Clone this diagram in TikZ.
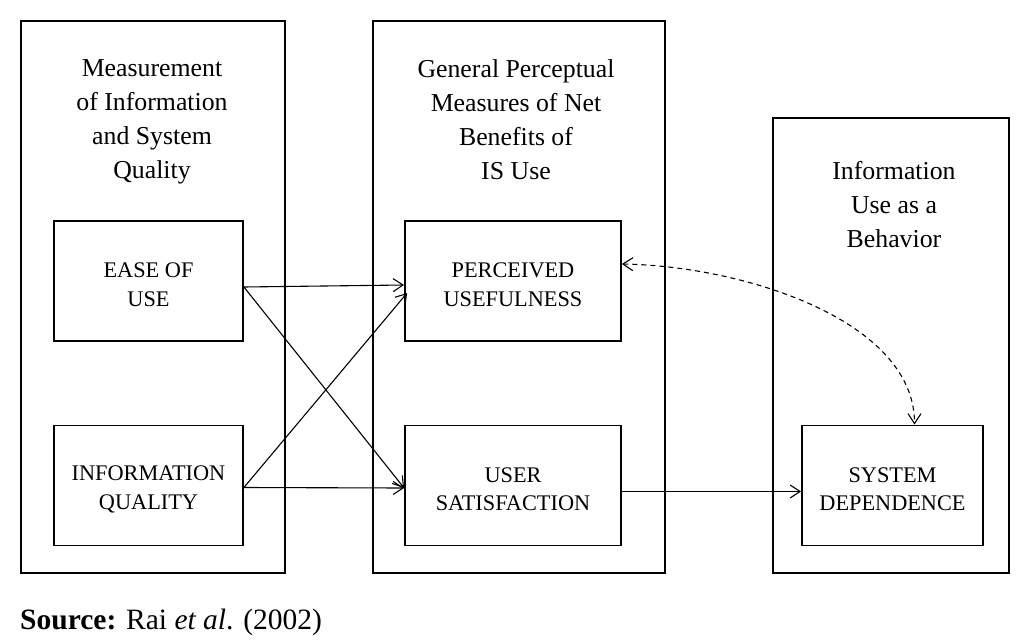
\documentclass[tikz,border=0pt]{standalone}
\usepackage{fontspec}
\setmainfont{Liberation Serif}
\usetikzlibrary{arrows.meta}
\newcommand{\fstrut}{\rule{0pt}{22.6pt}}
\begin{document}
\begin{tikzpicture}[x=1pt,y=-1pt,
  outer/.style={draw,line width=1.8pt,inner sep=0pt,anchor=north west},
  box/.style={draw,line width=1.8pt,inner sep=0pt,align=center,
    minimum width=189pt,minimum height=120pt,
    font=\fontsize{22.3}{28.5}\selectfont},
  title/.style={inner sep=0pt,align=center,anchor=north,
    font=\fontsize{25.8}{34}\selectfont},
  conn/.style={line width=1.1pt,-{Straight Barb[length=10pt,width=13pt]}},
  dconn/.style={line width=1.1pt,dash pattern=on 5pt off 4pt,
    {Straight Barb[length=10pt,width=13pt]}-{Straight Barb[length=10pt,width=13pt]}}]
\useasboundingbox (0,0) rectangle (1033,642);
% outer frames
\node[outer,minimum width=264pt,minimum height=552pt] (L) at (20,20) {};
\node[outer,minimum width=292pt,minimum height=552pt] (M) at (372,20) {};
\node[outer,minimum width=236pt,minimum height=455pt] (R) at (772,117) {};
% titles
\node[title] (tL) at (152,59.6) {Measurement\\of Information\\and System\\Quality};
\node[title] (tM) at (516,59.6) {General Perceptual\\Measures of Net\\Benefits of\\IS Use};
\node[title] (tR) at (894,161.6) {Information\\Use as a\\Behavior};
% inner boxes
\node[box] (eou) at (148.5,281) {\fstrut EASE OF\\USE};
\node[box] (iq) at (148.5,485.5) {\fstrut INFORMATION\\QUALITY};
\node[box,minimum width=216pt] (pu) at (513,281) {\fstrut PERCEIVED\\USEFULNESS};
\node[box,minimum width=216pt] (us) at (513,485.5) {\fstrut USER\\SATISFACTION};
\node[box,minimum width=181pt] (sd) at (892.5,485.5) {\fstrut SYSTEM\\DEPENDENCE};
% connectors
\draw[conn] ([yshift=-6pt]eou.east) -- ([yshift=-4pt]pu.west);
\draw[conn] ([yshift=-6pt]eou.east) -- ([yshift=-2.5pt]us.west);
\draw[conn] ([yshift=-2pt]iq.east) -- ([xshift=3pt,yshift=-12pt]pu.west);
\draw[conn] ([yshift=-2pt]iq.east) -- ([yshift=-2.5pt]us.west);
\draw[conn] ([yshift=-6pt]us.east) -- ([yshift=-6pt]sd.west);
\draw[dconn] ([yshift=17pt]pu.east) .. controls +(122,2) and +(0,-104) .. ([xshift=22pt]sd.north);
% source
\node[inner sep=0pt,anchor=base west,font=\fontsize{29.5}{32}\selectfont] (src) at (20,629)
  {\textbf{Source:} Rai \textit{et al}. (2002)};
\end{tikzpicture}
\end{document}
